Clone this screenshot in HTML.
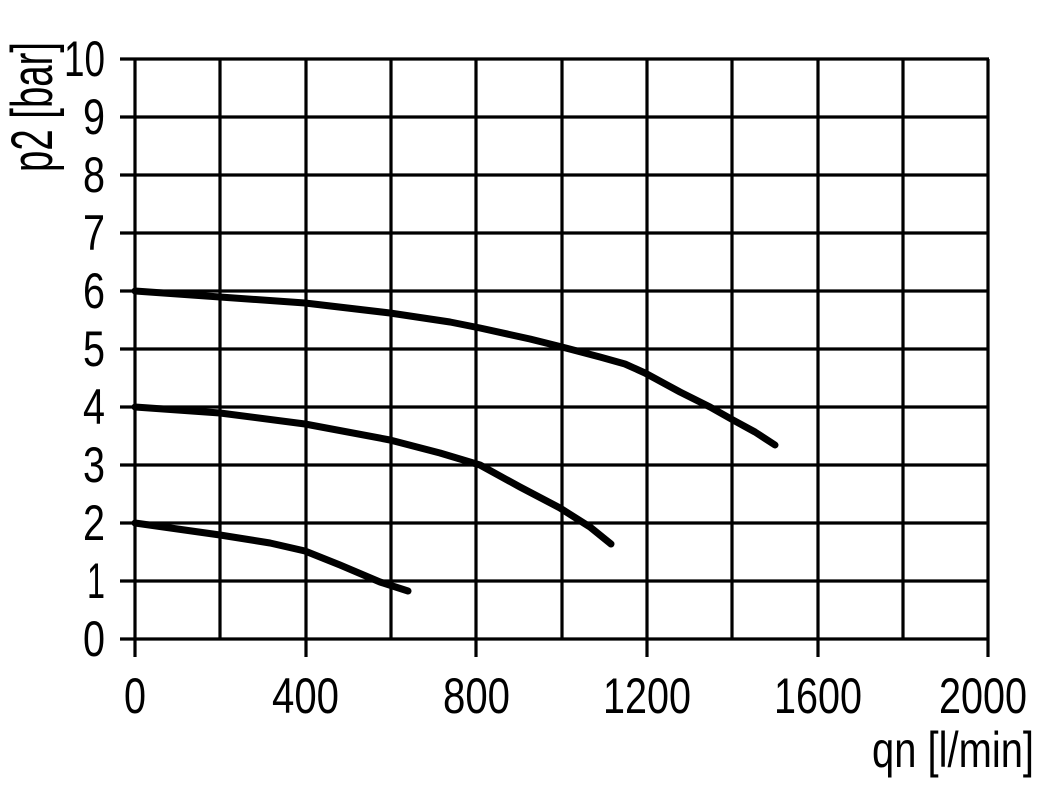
<!DOCTYPE html>
<html><head><style>body{margin:0;background:#fff}svg{display:block}</style></head>
<body>
<svg width="1051" height="803" viewBox="0 0 1051 803" xmlns="http://www.w3.org/2000/svg">
<g stroke="#000" stroke-width="3.2" fill="none">
<line x1="120" y1="59" x2="989" y2="59"/>
<line x1="120" y1="117" x2="989" y2="117"/>
<line x1="120" y1="175" x2="989" y2="175"/>
<line x1="120" y1="233" x2="989" y2="233"/>
<line x1="120" y1="291" x2="989" y2="291"/>
<line x1="120" y1="349" x2="989" y2="349"/>
<line x1="120" y1="407" x2="989" y2="407"/>
<line x1="120" y1="465" x2="989" y2="465"/>
<line x1="120" y1="523" x2="989" y2="523"/>
<line x1="120" y1="581" x2="989" y2="581"/>
<line x1="120" y1="639" x2="989" y2="639"/>
<line x1="135" y1="59" x2="135" y2="657"/>
<line x1="220" y1="59" x2="220" y2="639"/>
<line x1="306" y1="59" x2="306" y2="657"/>
<line x1="391" y1="59" x2="391" y2="639"/>
<line x1="476" y1="59" x2="476" y2="657"/>
<line x1="562" y1="59" x2="562" y2="639"/>
<line x1="647" y1="59" x2="647" y2="657"/>
<line x1="732" y1="59" x2="732" y2="639"/>
<line x1="818" y1="59" x2="818" y2="657"/>
<line x1="903" y1="59" x2="903" y2="639"/>
<line x1="988" y1="59" x2="988" y2="657"/>
</g>
<g stroke="#000" stroke-width="7" fill="none" stroke-linecap="round" stroke-linejoin="round">
<polyline points="135,291 220,297 305,303 390,313 450,322 480,328 530,339 562,347 600,357 625,364 645,373 680,392 710,407 733,420 755,432 775,445"/>
<polyline points="135,407 220,413 305,424 390,440 440,453 480,465 520,487 560,508 590,527 611,544"/>
<polyline points="135,523 220,535 270,543 305,551 340,565 380,582 408,591"/>
</g>
<g font-family="Liberation Sans, sans-serif" font-size="50" fill="#000">
<g text-anchor="end" lengthAdjust="spacingAndGlyphs">
<text x="105" y="76" textLength="41" lengthAdjust="spacingAndGlyphs">10</text>
<text x="105" y="134" textLength="22" lengthAdjust="spacingAndGlyphs">9</text>
<text x="105" y="192" textLength="22" lengthAdjust="spacingAndGlyphs">8</text>
<text x="105" y="250" textLength="22" lengthAdjust="spacingAndGlyphs">7</text>
<text x="105" y="308" textLength="22" lengthAdjust="spacingAndGlyphs">6</text>
<text x="105" y="366" textLength="22" lengthAdjust="spacingAndGlyphs">5</text>
<text x="105" y="424" textLength="22" lengthAdjust="spacingAndGlyphs">4</text>
<text x="105" y="482" textLength="22" lengthAdjust="spacingAndGlyphs">3</text>
<text x="105" y="540" textLength="22" lengthAdjust="spacingAndGlyphs">2</text>
<text x="105" y="598" textLength="18" lengthAdjust="spacingAndGlyphs">1</text>
<text x="105" y="656" textLength="22" lengthAdjust="spacingAndGlyphs">0</text>
</g>
<text x="124" y="713" textLength="22" lengthAdjust="spacingAndGlyphs">0</text>
<text x="272" y="713" textLength="67" lengthAdjust="spacingAndGlyphs">400</text>
<text x="443" y="713" textLength="67" lengthAdjust="spacingAndGlyphs">800</text>
<text x="603" y="713" textLength="88" lengthAdjust="spacingAndGlyphs">1200</text>
<text x="774" y="713" textLength="88" lengthAdjust="spacingAndGlyphs">1600</text>
<text x="939" y="713" textLength="88" lengthAdjust="spacingAndGlyphs">2000</text>
<text x="872" y="767" textLength="162" lengthAdjust="spacingAndGlyphs">qn [l/min]</text>
<text transform="translate(52,172) rotate(-90)" font-size="58" textLength="130" lengthAdjust="spacingAndGlyphs">p2 [bar]</text>
</g>
</svg>
</body></html>
